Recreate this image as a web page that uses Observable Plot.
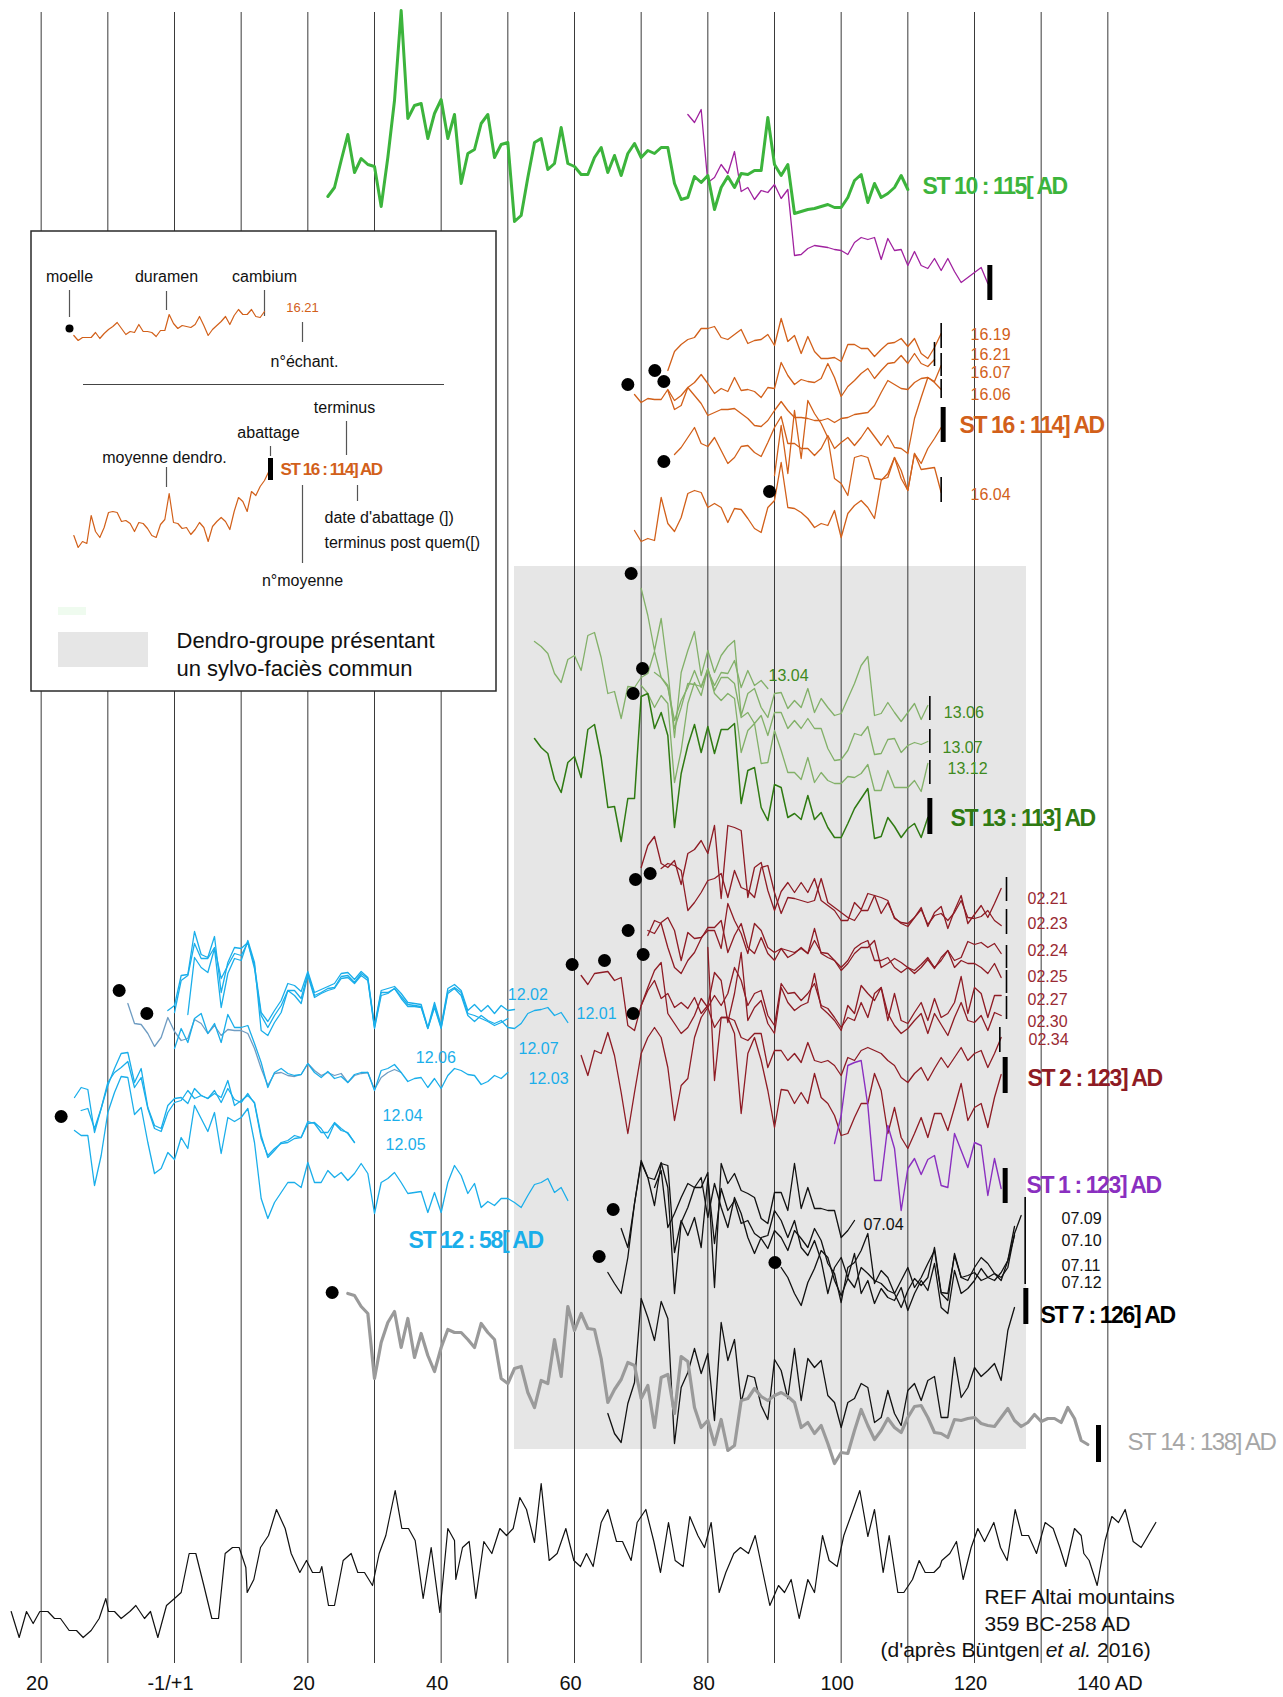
<!DOCTYPE html>
<html><head><meta charset="utf-8">
<script src="https://cdn.jsdelivr.net/npm/d3@7"></script>
<script src="https://cdn.jsdelivr.net/npm/@observablehq/plot@0.6"></script>
<style>body{margin:0;background:#fff} svg{display:block}</style>
</head><body><div id="chart"></div>
<script>
// ---------- DATA (years on x, vertical stack offset units on y) ----------
const gridYears = [-20,-10,0,10,20,30,40,50,60,70,80,90,100,110,120,130,140];
const tickYears = [-20,0,20,40,60,80,100,120,140];
const tickLabels = ["20","-1/+1","20","40","60","80","100","120","140 AD"];

// ST 10
const st10Start = 23;
const st10 = [196,187,160,134,172,158,164,166,206,157,100,10,118,105,103,138,113,99,138,114,183,153,149,123,114,157,144,142,221,215,177,142,138,169,163,127,163,166,174,174,157,147,172,155,175,153,143,157,150,153,147,147,183,199,197,176,182,175,209,187,176,187,173,174,170,170,117,164,175,164,213,211,209,208,206,204,207,207,197,180,174,202,183,197,193,187,175,189];
const st10bStart = 77;
const st10b = [114,122,109,182,177,164,173,151,191,187,199,190,192,184,198,189,255,254,248,245,246,247,249,250,254,242,237,239,237,259,238,250,249,265,251,265,268,258,270,258,271,282,277,272,267,283];

// ST 16
const s1619 = [370,351,344,339,337,328,328,326,337,339,334,329,343,340,339,334,345,318,341,335,353,336,351,358,358,357,361,344,344,348,348,356,349,343,342,338,346,338,353,358,347,333];
const s1621 = [394,402,398,399,399,389,400,395,387,382,374,383,393,388,391,377,390,389,391,397,387,388,362,375,384,379,381,382,378,363,377,396,386,380,373,368,378,370,363,362,355,363,353,363,366,359];
const s1607 = [390,409,405,387,395,403,415,412,409,409,408,413,418,425,426,420,410,401,410,417,417,418,420,420,418,422,418,417,414,413,412,405,392,380,384,388,389,382,378,377,381,365];
const s1606 = [454,447,437,427,443,446,437,450,463,457,446,445,452,456,442,427,416,443,443,448,448,455,448,435,448,442,437,445,437,427,436,445,435,447,448,453,418,397,377,382,389];
const st16 = [475,425,473,410,458,400,413,423,437,478,483,495,457,455,457,478,479,477,457,470,490,453,463,448,438,427];
const s1604 = [530,541,538,540,497,523,531,517,493,490,492,507,503,507,522,508,509,518,528,532,507,500,462,507,508,512,518,527,523,525,510,537,513,505,500,507,518,480,473,457,478,490,453,469,468,467,492];

// ST 13
const s1304 = [641,646,653,673,682,659,655,670,635,632,657,693,691,718,686,687,677,673,651,677,687,720,700,687,670,687,670,685,672,673,660,687,670,685,680,688];
const s1306 = [588,615,650,618,670,737,672,650,631,675,650,672,655,646,640,715,693,688,707,717,693,692,708,700,707,688,712,698,707,715,713,698,683,665,656,715,713,702,712,721,712,703,719,705];
const s1307 = [672,677,685,728,707,683,684,686,668,690,677,677,683,717,712,723,715,735,712,712,728,720,728,718,728,728,748,760,759,750,733,735,726,754,753,739,738,752,745,742,744,741];
const s1312 = [685,693,707,695,703,782,750,703,682,695,668,693,700,693,698,752,730,723,763,762,730,750,772,772,779,757,782,772,780,783,783,776,777,773,764,790,790,770,787,787,787,780,791,763];
const st13 = [738,747,753,779,792,762,756,777,729,724,757,807,806,841,798,798,696,693,728,712,735,827,773,745,724,752,726,753,729,729,723,803,770,767,807,820,784,787,817,813,819,795,819,812,827,837,837,823,808,798,788,838,836,817,826,837,828,823,837,817];

// ST 2
const s0221 = [867,845,836,863,867,860,884,853,849,840,853,825,898,825,827,830,897,867,862,890,910,891,882,892,882,892,878,900,905,910,920,920,902,909,893,895,913,902,917,923,926,917,907,926,912,906,928,910,895,923,914,905,917,903,888];
const s0223 = [868,863,865,870,910,902,892,880,878,873,897,870,887,890,897,867,865,892,913,897,898,900,902,900,878,902,907,912,917,920,910,910,895,897,900,918,922,923,917,909,924,915,913,920,912,900,917,918,916,910,920,925];
const s0224 = [930,933,922,917,930,960,932,938,937,930,930,948,903,920,933,953,923,930,947,952,948,957,953,947,953,928,953,957,960,970,963,953,947,947,940,967,963,958,962,967,970,964,957,967,960,950,960,957,941,944,942,947,943,953];
const s0225 = [935,920,923,947,967,973,960,952,938,927,927,920,952,935,923,947,953,937,953,960,948,950,952,948,953,940,952,953,960,967,960,948,943,940,960,960,957,967,972,967,973,967,959,968,957,950,967,960,963,963,967,973,963,977];
const s0227 = [1005,987,970,962,1013,1023,1033,1027,1015,998,1007,995,1005,993,967,980,1005,993,990,1015,1025,983,993,992,1000,993,983,1005,1008,1017,1027,1017,1020,1002,1017,993,987,1020,993,1020,1023,1012,1002,1020,998,1017,1013,1002,976,1013,987,993,1017,995,995];
const s0230 = [975,984,973,972,971,980,977,1025,1030,1005,990,980,998,993,1007,1002,1008,997,1013,1005,972,980,1022,993,952,1020,1007,1000,1023,1033,987,1002,1010,1005,1002,973,1007,1013,1020,1030,1005,1013,985,993,1000,987,1013,1025,1033,1028,1020,1013,1033,1013,1024,1035,1017,1002,1020,1022,1015,1030,1012,1015];
const s0234 = [1055,1075,1050,1053,1032,1055,1092,1133,1092,1053,1037,1027,1037,1067,1120,1085,1078,1037,1017,1007,1027,1017,1017,1020,1037,1040,1033,1033,1067,1050,1050,1060,1053,1062,1042,1060,1062,1060,1065,1075,1057,1060,1050,1047,1050,1053,1060,1065,1077,1082,1073,1067,1080,1068,1057,1067,1057,1047,1060,1053,1050,1067,1053,1037];
const st2 = [947,1080,1017,1017,1033,1113,1053,1037,1060,1090,1127,1089,1090,1103,1092,1103,1073,1097,1103,1115,1135,1133,1117,1103,1103,1073,1090,1133,1107,1137,1148,1133,1117,1137,1113,1113,1130,1107,1083,1120,1107,1103,1127,1097,1074];

// ST 1
const st1 = [1143,1115,1065,1062,1060,1105,1180,1180,1125,1148,1210,1168,1158,1174,1159,1155,1185,1187,1133,1150,1167,1142,1145,1195,1158,1188];

// ST 7
const s0704 = [1272,1283,1293,1257,1203,1160,1177,1179,1162,1187,1293,1222,1207,1187,1187,1172,1287,1163,1183,1173,1190,1193,1197,1218,1223,1192,1192,1210,1163,1208,1187,1208,1208,1210,1210,1237,1230,1220];
const s0709 = [1228,1247,1203,1162,1177,1205,1163,1165,1252,1220,1235,1217,1247,1178,1243,1188,1210,1200,1223,1220,1233,1238,1248,1230,1237,1250,1230,1238,1247,1228,1240,1263,1273,1302,1267,1262,1250,1233,1283,1270,1277,1293,1280,1267,1287,1277,1263,1250,1293,1300,1253,1277,1280,1267,1257,1263,1273,1277,1267,1233,1215];
const s0711 = [1267,1277,1293,1305,1282,1268,1250,1257,1280,1295,1278,1287,1267,1273,1280,1283,1290,1293,1307,1290,1278,1285,1277,1247,1292,1293,1255,1277,1275,1272,1280,1277,1273,1280,1260,1226];
const s0710 = [1187,1170,1227,1213,1197,1183,1187,1177,1217,1183,1207,1227,1197,1213,1237,1253,1237,1235,1210,1220,1237,1220,1247,1255,1240,1260,1293,1267,1257,1277,1253,1293,1280,1303,1288,1297,1300,1287,1310,1293,1280,1290,1263,1307,1313,1270,1293,1288,1280,1268,1277,1280,1272,1260,1235];
const st7 = [1413,1433,1442,1403,1382,1298,1317,1340,1301,1318,1443,1387,1372,1348,1373,1353,1420,1322,1360,1339,1402,1375,1377,1405,1419,1359,1370,1398,1348,1400,1358,1367,1360,1395,1402,1427,1402,1398,1383,1387,1422,1417,1390,1413,1425,1390,1383,1400,1380,1376,1417,1417,1357,1397,1387,1367,1376,1370,1363,1380,1330,1307];

// ST 14
const st14 = [1293,1295,1306,1313,1378,1342,1322,1311,1347,1318,1357,1333,1355,1371,1347,1329,1332,1332,1339,1347,1323,1332,1339,1378,1383,1368,1366,1392,1407,1380,1383,1339,1376,1306,1330,1313,1328,1329,1358,1402,1389,1379,1362,1365,1398,1385,1427,1377,1374,1413,1356,1361,1407,1427,1420,1444,1419,1450,1445,1400,1398,1388,1396,1400,1395,1392,1396,1402,1427,1422,1433,1425,1443,1463,1452,1453,1430,1409,1425,1439,1430,1418,1427,1432,1417,1406,1405,1417,1432,1433,1437,1419,1420,1418,1417,1423,1425,1426,1417,1408,1420,1426,1422,1414,1421,1418,1418,1422,1407,1418,1440,1444];

// ST 12
const s1202 = [1010,1005,975,974,931,954,957,936,992,962,947,948,942,965,1012,1021,1010,1000,983,985,991,971,992,989,986,983,973,972,979,971,977,1025,990,988,986,993,1002,1003,1004,1027,1002,1025,988,984,990,1010,1004,1011,1005,1013,1005,1010,1009];
const s1201 = [1014,957,967,972,948,1007,973,958,960,940,962,1030,1035,1022,1012,990,995,1003,975,997,993,990,988,978,977,983,975,980,1028,995,993,988,998,1006,1006,1007,1028,1007,1028,993,988,995,1015,1021,1015,1020,1023,1020,1027,1028,1023,1013,1010,1009,1007,1015,1012,1022];
const s1207 = [1012,980,975,943,958,958,947,978,965,953,955,942,968,1015,1027,1015,1005,990,990,998,973,995,992,988,987,976,975,982,973,978,1027,992,992,988,996,1004,1005,1006,1028,1005,1027,991,987,992,1013,1015,1018,1021,1025,1022,1018];
const s1206 = [1003,1023,1024,1033,1046,1037,1017,1031,1040,1038,1019,1023,1033,1025,1035,1029,1030,1030,1033,1048,1068,1085,1073,1072,1075,1076,1074,1063,1070,1075,1072,1075,1073,1082,1075,1073,1072,1089,1077,1072,1069,1072];
const s1203 = [1048,1028,1042,1018,1013,1033,1023,1042,1014,1027,1027,1025,1043,1062,1087,1072,1068,1073,1075,1074,1063,1072,1077,1071,1078,1076,1082,1074,1072,1072,1090,1070,1068,1064,1072,1081,1078,1077,1087,1078,1088,1075,1068,1070,1074,1075,1084,1081,1075,1078,1072];
const s1204 = [1097,1087,1089,1132,1108,1082,1072,1067,1061,1087,1077,1108,1128,1131,1112,1102,1100,1090,1098,1095,1098,1090,1102,1088,1099,1102,1093,1103,1138,1155,1148,1143,1142,1138,1137,1123,1122,1128,1138,1123,1130,1132,1142];
const s1205 = [1110,1108,1128,1108,1085,1068,1053,1052,1082,1068,1107,1125,1128,1105,1098,1097,1103,1088,1095,1098,1093,1097,1080,1105,1100,1095,1102,1135,1157,1150,1142,1140,1135,1137,1121,1123,1132,1132,1122,1128,1133,1142];
const st12 = [1130,1135,1135,1185,1155,1112,1092,1076,1077,1114,1107,1142,1173,1168,1152,1159,1137,1148,1105,1118,1131,1112,1153,1117,1121,1117,1108,1142,1198,1218,1202,1192,1182,1182,1187,1162,1182,1182,1170,1177,1172,1180,1173,1163,1173,1213,1182,1178,1172,1182,1193,1192,1191,1212,1192,1212,1182,1165,1175,1193,1183,1207,1201,1205,1198,1198,1202,1207,1195,1184,1182,1178,1192,1187,1200];

// REF Altai (years, values)
const refYears = [-24.5,-23.3,-22.2,-21.2,-20.2,-19.0,-18.0,-17.1,-15.8,-14.7,-13.7,-12.5,-11.3,-10.3,-9.9,-9.0,-8.0,-6.7,-5.8,-4.5,-3.6,-2.5,-1.2,0,1.0,2.2,3.2,4.4,5.6,6.6,7.6,8.7,9.7,10.7,10.9,11.9,12.9,14.1,15.3,16.6,17.5,18.8,19.8,20.7,21.8,22.1,23.1,24.0,25.3,26.5,27.5,28.5,29.7,30.7,31.7,32.1,33.1,34.1,35.1,36.1,37.3,38.5,39.8,41.0,42.0,42.2,43.2,44.2,45.2,46.4,47.6,48.8,49.8,50.8,51.8,52.8,54.0,55.0,56.2,57.4,58.7,59.9,60.9,61.8,62.8,64.0,65.0,66.3,67.2,68.5,69.4,70.7,71.9,72.9,74.1,75.1,76.3,77.3,78.5,79.5,80.5,81.7,82.7,83.9,84.9,86.1,87.1,89.3,90.6,91.5,92.5,93.7,95.0,96.0,97.2,98.2,99.4,100.4,101.8,102.8,104.0,105.0,106.3,107.2,108.5,109.4,110.7,111.7,112.6,113.9,114.8,115.1,116.3,117.3,118.3,119.5,120.5,121.5,122.9,123.9,124.9,126.1,127.1,128.1,129.3,130.6,131.8,132.8,133.7,135.0,136.0,136.4,137.2,138.4,139.6,140.6,141.6,142.6,143.8,145.0,147.2];
const refValues = [1611,1637,1611,1623,1611,1611,1618,1618,1630,1630,1637,1630,1618,1598,1611,1611,1618,1611,1605,1618,1611,1637,1605,1598,1592,1553,1553,1585,1618,1618,1553,1547,1547,1567,1592,1579,1547,1535,1509,1528,1553,1572,1560,1572,1572,1566,1605,1605,1560,1553,1572,1572,1585,1553,1535,1522,1490,1528,1528,1540,1598,1547,1612,1528,1540,1579,1547,1541,1598,1541,1553,1528,1535,1528,1497,1509,1542,1483,1560,1553,1528,1560,1566,1553,1566,1522,1509,1541,1541,1560,1522,1509,1541,1572,1522,1560,1566,1516,1535,1547,1522,1592,1572,1553,1547,1553,1535,1605,1585,1592,1579,1618,1579,1592,1535,1560,1566,1535,1509,1490,1536,1509,1572,1535,1592,1592,1579,1560,1572,1572,1566,1560,1553,1541,1579,1547,1528,1541,1522,1547,1560,1509,1535,1535,1553,1522,1528,1547,1566,1528,1535,1553,1560,1585,1540,1516,1522,1509,1541,1547,1522];

// legend sample curves
const legendTop = [335,340,337,337,337,332,338,333,329,326,322,328,334,331,332,324,331,331,332,336,330,330,314,323,328,325,326,327,324,316,325,335,329,325,321,316,324,315,309,314,314,309,316,317,311];
const legendBottom = [535,547,541,543,515,531,537,527,512,511,512,521,520,523,531,522,523,528,535,537,524,519,493,522,523,528,527,534,529,522,527,541,526,521,517,521,529,511,497,501,511,491,495,486,480,471];

// pith dots (year, value)
const pithYears = [68,72.05,73.4,73.4,89.25, 68.5,70.2,68.8, 59.65,64.5,69.15,71.35,68.05,70.3,68.8, -8.3,-4.15,-17, 65.8,63.7,90.06, 23.65];
const pithValues = [384,370,381,461,491, 573,668,693, 964,960,879,873,930,954,1013, 990,1013,1116, 1209,1256,1262, 1292];

// ---------- BUILD ----------
const ser = (start, vals) => vals.map((v, i) => ({year: start + i, v}));
const F = "Liberation Sans, Arial, Helvetica, sans-serif";
const C = {
  green: "#3cb43c", purple10: "#a0229f", orange: "#d2601a",
  g13light: "#82b068", g13dark: "#2f7a12", g13lab: "#3e8a20",
  red: "#8e1b24", redlab: "#9a2a33", blue: "#1aaeea", slate: "#6f9cc2",
  violet: "#8a2fc0", gray: "#9a9a9a"
};
const L = (data, stroke, w = 1.3) => Plot.line(data, {x: "year", y: "v", stroke, strokeWidth: w, strokeLinejoin: "round"});

const lineMarks = [
  L(ser(st10bStart, st10b), C.purple10, 1.3),
  L(ser(st10Start, st10), C.green, 3),
  L(ser(74, s1619), C.orange), L(ser(69, s1621), C.orange), L(ser(74, s1607), C.orange),
  L(ser(75, s1606), C.orange), L(ser(90, st16), C.orange), L(ser(69, s1604), C.orange),
  L(ser(54, s1304), C.g13light), L(ser(70, s1306), C.g13light), L(ser(72, s1307), C.g13light), L(ser(70, s1312), C.g13light),
  L(ser(54, st13), C.g13dark, 1.5),
  L(ser(70, s0221), C.red), L(ser(73, s0223), C.red), L(ser(71, s0224), C.red), L(ser(71, s0225), C.red),
  L(ser(70, s0227), C.red), L(ser(61, s0230), C.red), L(ser(61, s0234), C.red), L(ser(80, st2), C.red),
  L(ser(99, st1), C.violet, 1.4),
  L(ser(65, s0704), "#111"), L(ser(67, s0709), "#111"), L(ser(91, s0711), "#111"), L(ser(72, s0710), "#111"),
  L(ser(65, st7), "#111"),
  L(ser(26, st14), C.gray, 3.2),
  L(ser(-1, s1202), C.blue), L(ser(2, s1201), C.blue), L(ser(0, s1207), C.blue),
  L(ser(-7, s1206), C.slate), L(ser(0, s1203), C.blue),
  L(ser(-15, s1204), C.blue), L(ser(-14, s1205), C.blue), L(ser(-15, st12), C.blue),
  Plot.line(refYears.map((y, i) => ({year: y, v: refValues[i]})), {x: "year", y: "v", stroke: "#111", strokeWidth: 1.2})
];

// bars: terminus / felling marks
const thickBars = [
  {x: 122.3, a: 265, b: 300}, {x: 115.3, a: 407, b: 442}, {x: 113.3, a: 798, b: 834},
  {x: 124.6, a: 1057, b: 1093}, {x: 124.6, a: 1168, b: 1203}, {x: 127.7, a: 1288, b: 1324},
  {x: 138.6, a: 1425, b: 1462}, {x: 14.4, a: 458, b: 480}
];
const thinBars = [
  {x: 115, a: 323, b: 348}, {x: 114, a: 342, b: 366}, {x: 115, a: 353, b: 376}, {x: 115, a: 379, b: 398}, {x: 115, a: 477, b: 502},
  {x: 113.3, a: 696, b: 720}, {x: 113.3, a: 729, b: 753}, {x: 113.3, a: 760, b: 784},
  {x: 124.8, a: 877, b: 901}, {x: 124.8, a: 909, b: 934}, {x: 124.8, a: 945, b: 968}, {x: 124.8, a: 970, b: 993}, {x: 124.8, a: 996, b: 1019}, {x: 123.8, a: 1027, b: 1052},
  {x: 127.6, a: 1197, b: 1284}
];

// legend geometry (in chart units)
const legendBox = {x1: -21.45, x2: 48.3, y1: 231, y2: 691};
const leaders = [
  {x: -15.75, a: 290, b: 317}, {x: -1.2, a: 291, b: 310}, {x: 13.5, a: 290, b: 316}, {x: 19.2, a: 322, b: 342},
  {x: 25.8, a: 421, b: 455}, {x: 14.4, a: 446, b: 456}, {x: -1.2, a: 467, b: 487}, {x: 19.2, a: 485, b: 563}, {x: 27.45, a: 485, b: 501}
];
const legendTextsMid = [
  {t: "moelle", x: -15.75, y: 276}, {t: "duramen", x: -1.2, y: 276}, {t: "cambium", x: 13.5, y: 276},
  {t: "n°échant.", x: 19.5, y: 361}, {t: "terminus", x: 25.5, y: 407}, {t: "abattage", x: 14.1, y: 432},
  {t: "moyenne dendro.", x: -1.5, y: 457}, {t: "n°moyenne", x: 19.2, y: 580}
];
const legendTextsStart = [
  {t: "date d'abattage (])", x: 22.5, y: 517}, {t: "terminus post quem([)", x: 22.5, y: 542}
];

const smallLabels = [
  {t: "16.19", x: 119.4, y: 334, c: C.orange}, {t: "16.21", x: 119.4, y: 354, c: C.orange}, {t: "16.07", x: 119.4, y: 372, c: C.orange},
  {t: "16.06", x: 119.4, y: 394, c: C.orange}, {t: "16.04", x: 119.4, y: 494, c: C.orange},
  {t: "13.04", x: 89.1, y: 675, c: C.g13lab}, {t: "13.06", x: 115.4, y: 712, c: C.g13lab}, {t: "13.07", x: 115.2, y: 747, c: C.g13lab}, {t: "13.12", x: 115.95, y: 768, c: C.g13lab},
  {t: "02.21", x: 127.95, y: 898, c: C.redlab}, {t: "02.23", x: 127.95, y: 923, c: C.redlab}, {t: "02.24", x: 127.95, y: 950, c: C.redlab},
  {t: "02.25", x: 127.95, y: 976, c: C.redlab}, {t: "02.27", x: 127.95, y: 999, c: C.redlab}, {t: "02.30", x: 127.95, y: 1021, c: C.redlab}, {t: "02.34", x: 128.1, y: 1039, c: C.redlab},
  {t: "12.02", x: 50, y: 994, c: C.blue}, {t: "12.01", x: 60.3, y: 1013, c: C.blue}, {t: "12.07", x: 51.6, y: 1048, c: C.blue},
  {t: "12.06", x: 36.2, y: 1057, c: C.blue}, {t: "12.03", x: 53.1, y: 1078, c: C.blue}, {t: "12.04", x: 31.2, y: 1115, c: C.blue}, {t: "12.05", x: 31.65, y: 1144, c: C.blue},
  {t: "07.04", x: 103.35, y: 1224, c: "#111"}, {t: "07.09", x: 133.05, y: 1218, c: "#111"}, {t: "07.10", x: 133.05, y: 1240, c: "#111"},
  {t: "07.11", x: 133.05, y: 1265, c: "#111"}, {t: "07.12", x: 133.05, y: 1282, c: "#111"}
];
const stLabelsBold = [
  {t: "ST 10 : 115[ AD", x: 112.2, y: 186, c: C.green},
  {t: "ST 16 : 114] AD", x: 117.75, y: 425, c: C.orange},
  {t: "ST 13 : 113] AD", x: 116.4, y: 818, c: C.g13dark},
  {t: "ST 2 : 123] AD", x: 127.95, y: 1078, c: C.red},
  {t: "ST 1 : 123] AD", x: 127.8, y: 1185, c: C.violet},
  {t: "ST 7 : 126] AD", x: 129.9, y: 1315, c: "#000"},
  {t: "ST 12 : 58[ AD", x: 35.1, y: 1240, c: C.blue}
];
const stLabelsPlain = [{t: "ST 14 : 138] AD", x: 142.95, y: 1442, c: "#a6a6a6"}];

const chart = Plot.plot({
  width: 1283, height: 1697,
  marginTop: 0, marginBottom: 0, marginLeft: 0, marginRight: 0,
  x: {domain: [-26.1, 166.35], range: [0, 1283], axis: null},
  y: {domain: [0, 1697], range: [0, 1697], axis: null},
  style: {fontFamily: F, background: "#fff"},
  marks: [
    Plot.rect([{x1: 51, x2: 127.8, y1: 566, y2: 1449}], {x1: "x1", x2: "x2", y1: "y1", y2: "y2", fill: "#e6e6e6"}),
    Plot.ruleX(gridYears, {x: d => d, y1: 12, y2: 1663, stroke: "#3a3a3a", strokeWidth: 1}),
    // legend
    Plot.rect([legendBox], {x1: "x1", x2: "x2", y1: "y1", y2: "y2", fill: "#fff", stroke: "#2a2a2a", strokeWidth: 1.5}),
    Plot.ruleY([384], {x1: -13.65, x2: 40.5, stroke: "#444", strokeWidth: 1}),
    Plot.ruleX(leaders, {x: "x", y1: "a", y2: "b", stroke: "#555", strokeWidth: 1.2}),
    Plot.line(legendTop.map((v, i) => ({year: -15.1 + i * 0.65, v})), {x: "year", y: "v", stroke: C.orange, strokeWidth: 1.2}),
    Plot.line(legendBottom.map((v, i) => ({year: -15.1 + i * 0.65, v})), {x: "year", y: "v", stroke: C.orange, strokeWidth: 1.2}),
    Plot.dot([{x: -15.75, y: 328}], {x: "x", y: "y", r: 4, fill: "#000"}),
    Plot.text(legendTextsMid, {x: "x", y: "y", text: "t", textAnchor: "middle", fontSize: 16, fill: "#111"}),
    Plot.text(legendTextsStart, {x: "x", y: "y", text: "t", textAnchor: "start", fontSize: 16, fill: "#111"}),
    Plot.text([{t: "16.21", x: 19.2, y: 307}], {x: "x", y: "y", text: "t", fontSize: 13, fill: C.orange}),
    Plot.text([{t: "ST 16 : 114] AD", x: 15.9, y: 469}], {x: "x", y: "y", text: "t", textAnchor: "start", fontSize: 17, fontWeight: "bold", fill: C.orange}),
    Plot.rect([{x1: -17.4, x2: -13.2, y1: 607, y2: 615}], {x1: "x1", x2: "x2", y1: "y1", y2: "y2", fill: "#effbef"}),
    Plot.rect([{x1: -17.4, x2: -3.9, y1: 632, y2: 667}], {x1: "x1", x2: "x2", y1: "y1", y2: "y2", fill: "#e6e6e6"}),
    Plot.text([{t: "Dendro-groupe présentant", y: 640}, {t: "un sylvo-faciès commun", y: 668}], {x: () => 0.3, y: "y", text: "t", textAnchor: "start", fontSize: 22, fill: "#111"}),
    // series
    ...lineMarks,
    Plot.dot(pithYears.map((x, i) => ({x, y: pithValues[i]})), {x: "x", y: "y", r: 6.5, fill: "#000"}),
    Plot.ruleX(thinBars, {x: "x", y1: "a", y2: "b", stroke: "#000", strokeWidth: 1.6}),
    Plot.ruleX(thickBars, {x: "x", y1: "a", y2: "b", stroke: "#000", strokeWidth: 5}),
    Plot.text(smallLabels, {x: "x", y: "y", text: "t", textAnchor: "start", fontSize: 16, fill: d => d.c}),
    Plot.text(stLabelsBold, {x: "x", y: "y", text: "t", textAnchor: "start", fontSize: 23, fontWeight: "bold", fill: d => d.c}),
    Plot.text(stLabelsPlain, {x: "x", y: "y", text: "t", textAnchor: "start", fontSize: 24, fill: d => d.c}),
    // REF caption
    Plot.text([{t: "REF Altai mountains", y: 1597}, {t: "359 BC-258 AD", y: 1624}], {x: () => 121.5, y: "y", text: "t", textAnchor: "start", fontSize: 21, fill: "#111"}),
    Plot.text([{t: "(d'après Büntgen et al. 2016)", y: 1650}], {x: () => 105.9, y: "y", text: "t", textAnchor: "start", fontSize: 21, fill: "#111"}),
    // bottom year labels
    Plot.text(tickYears.map((y, i) => ({y, t: tickLabels[i]})), {x: d => d.y === 140 ? 140.3 : d.y - 0.6, y: () => 1683, text: "t", textAnchor: "middle", fontSize: 20, fill: "#111"})
  ]
});

// condensed look for the bold labels, italic "et al."
chart.querySelectorAll("text").forEach(el => {
  const s = el.textContent;
  if (/^ST \d+ :/.test(s)) el.setAttribute("letter-spacing", "-1.4");
  if (s.indexOf("et al.") >= 0) {
    el.textContent = "";
    const parts = [["(d'après Büntgen ", "normal"], ["et al.", "italic"], [" 2016)", "normal"]];
    parts.forEach(([t, st]) => {
      const ts = document.createElementNS("http://www.w3.org/2000/svg", "tspan");
      ts.textContent = t; ts.setAttribute("font-style", st); el.appendChild(ts);
    });
  }
});
document.getElementById("chart").appendChild(chart);
</script></body></html>
